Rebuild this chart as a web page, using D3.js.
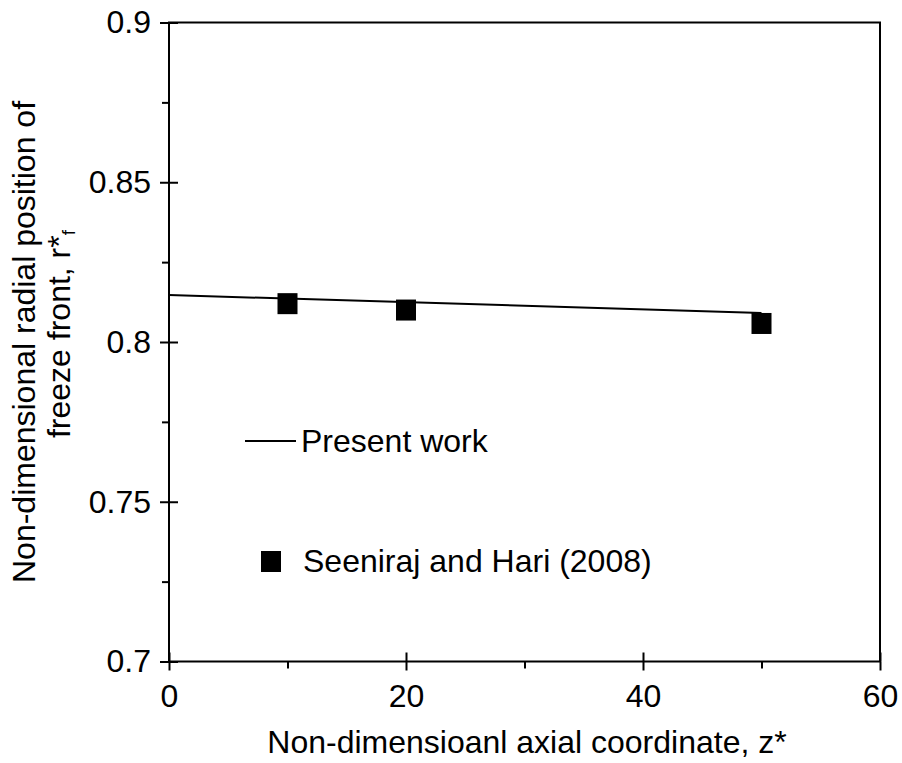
<!DOCTYPE html>
<html>
<head>
<meta charset="utf-8">
<script src="https://cdn.jsdelivr.net/npm/d3@7"></script>
<style>
  body { margin: 0; background: #fff; }
  svg text { font-family: "Liberation Sans", Arial, sans-serif; fill: #000; }
</style>
</head>
<body>
<div id="chart"></div>
<script>
// present work (line)
const lineZ = [0, 50];
const lineR = [0.8147, 0.8091];
// Seeniraj and Hari (2008) (squares)
const dataZ = [10, 20, 50];
const dataR = [0.8120, 0.8100, 0.8058];

const xMajor = [0, 20, 40, 60];
const xMinor = [10, 30, 50];
const yMajor = [0.7, 0.75, 0.8, 0.85, 0.9];
const yMinor = [0.725, 0.775, 0.825, 0.875];
const yLabels = ['0.7', '0.75', '0.8', '0.85', '0.9'];

const width = 902, height = 763;
const plotL = 169, plotR = 880, plotT = 22.5, plotB = 661.5;
const fs = '32px';

const svg = d3.select('#chart').append('svg')
  .attr('width', width).attr('height', height);

const x = d3.scaleLinear().domain([0, 60]).range([plotL, plotR]);
const y = d3.scaleLinear().domain([0.7, 0.9]).range([plotB, plotT]);

// frame
svg.append('rect')
  .attr('x', plotL).attr('y', plotT)
  .attr('width', plotR - plotL).attr('height', plotB - plotT)
  .attr('fill', 'none').attr('stroke', '#000').attr('stroke-width', 2);

function styleAxis(g) {
  g.select('.domain').remove();
  g.selectAll('.tick line').attr('stroke', '#000').attr('stroke-width', 2);
  g.selectAll('.tick text').style('font-size', fs);
}

// x axis: major ticks cross the axis, minor point down
svg.append('g').attr('transform', `translate(0,${plotB})`)
  .call(d3.axisBottom(x).tickValues(xMajor).tickSize(9).tickPadding(14).tickFormat(d3.format('d')))
  .call(styleAxis);
svg.append('g').attr('transform', `translate(0,${plotB})`)
  .call(d3.axisTop(x).tickValues(xMajor).tickSize(9).tickFormat(''))
  .call(styleAxis);
svg.append('g').attr('transform', `translate(0,${plotB})`)
  .call(d3.axisBottom(x).tickValues(xMinor).tickSize(7).tickFormat(''))
  .call(styleAxis);

// y axis
svg.append('g').attr('transform', `translate(${plotL},0)`)
  .call(d3.axisLeft(y).tickValues(yMajor).tickSize(9).tickPadding(9)
    .tickFormat((d, i) => yLabels[i]))
  .call(styleAxis);
svg.append('g').attr('transform', `translate(${plotL},0)`)
  .call(d3.axisRight(y).tickValues(yMajor).tickSize(9).tickFormat(''))
  .call(styleAxis);
svg.append('g').attr('transform', `translate(${plotL},0)`)
  .call(d3.axisLeft(y).tickValues(yMinor).tickSize(7).tickFormat(''))
  .call(styleAxis);

// line
const line = d3.line().x(d => x(d[0])).y(d => y(d[1]));
svg.append('path')
  .datum(lineZ.map((z, i) => [z, lineR[i]]))
  .attr('d', line)
  .attr('fill', 'none').attr('stroke', '#000').attr('stroke-width', 2);

// squares
const sq = 20;
svg.selectAll('.pt')
  .data(dataZ.map((z, i) => [z, dataR[i]]))
  .enter().append('rect')
  .attr('class', 'pt')
  .attr('x', d => x(d[0]) - sq / 2)
  .attr('y', d => y(d[1]) - sq / 2 - 0.5)
  .attr('width', sq).attr('height', sq + 1)
  .attr('fill', '#000');

// legend
svg.append('line')
  .attr('x1', 245).attr('x2', 296).attr('y1', 441).attr('y2', 441)
  .attr('stroke', '#000').attr('stroke-width', 2);
svg.append('text').attr('x', 301).attr('y', 452).style('font-size', fs).text('Present work');
svg.append('rect').attr('x', 261).attr('y', 551).attr('width', sq).attr('height', sq + 1).attr('fill', '#000');
svg.append('text').attr('x', 303).attr('y', 572).style('font-size', fs).text('Seeniraj and Hari (2008)');

// axis titles
svg.append('text')
  .attr('x', 527).attr('y', 753)
  .attr('text-anchor', 'middle').style('font-size', fs)
  .text('Non-dimensioanl axial coordinate, z*');

svg.append('text')
  .attr('transform', 'translate(35,342) rotate(-90)')
  .attr('text-anchor', 'middle').style('font-size', fs)
  .text('Non-dimensional radial position of');
const yt2 = svg.append('text')
  .attr('transform', 'translate(70,334) rotate(-90)')
  .attr('text-anchor', 'middle').style('font-size', fs);
yt2.append('tspan').text('freeze front, r*');
yt2.append('tspan').attr('dy', 5).style('font-size', '19px').text('f');
</script>
</body>
</html>
